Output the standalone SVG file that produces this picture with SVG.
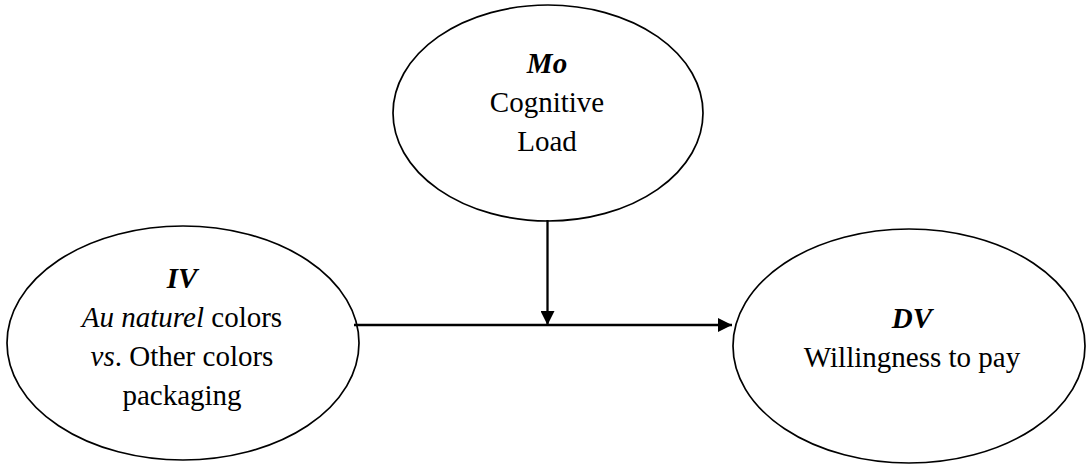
<svg xmlns="http://www.w3.org/2000/svg" width="1087" height="465" viewBox="0 0 1087 465">
  <style>
    .node { fill: #ffffff; stroke: #000000; stroke-width: 1.7; }
    .edge { stroke: #000000; stroke-width: 2.3; fill: none; }
    text { font-family: "Liberation Serif", "Times New Roman", serif; font-size: 29px; fill: #000000; text-anchor: middle; }
    .label { font-weight: bold; font-style: italic; }
    .it { font-style: italic; }
  </style>
  <defs>
    <marker id="arrow" viewBox="0 0 14 14" refX="14" refY="7" markerWidth="14" markerHeight="14" markerUnits="userSpaceOnUse" orient="auto">
      <path d="M0,0 L14,7 L0,14 Z" fill="#000000"/>
    </marker>
  </defs>
  <rect width="1087" height="465" fill="#ffffff"/>

  <g id="mo">
    <ellipse class="node" cx="548" cy="113" rx="155" ry="108"/>
    <text x="547" y="73" class="label">Mo</text>
    <text x="547" y="112">Cognitive</text>
    <text x="547" y="151">Load</text>
  </g>

  <g id="iv">
    <ellipse class="node" cx="183" cy="343" rx="176" ry="117"/>
    <text x="182" y="288" class="label">IV</text>
    <text x="182" y="327"><tspan class="it">Au naturel</tspan> colors</text>
    <text x="182" y="366"><tspan class="it">vs</tspan>. Other colors</text>
    <text x="182" y="405">packaging</text>
  </g>

  <g id="dv">
    <ellipse class="node" cx="909" cy="346" rx="176" ry="117"/>
    <text x="912" y="328" class="label">DV</text>
    <text x="912" y="367">Willingness to pay</text>
  </g>

  <g id="connectors">
    <line class="edge" x1="354" y1="325" x2="732" y2="325" marker-end="url(#arrow)"/>
    <line class="edge" x1="547.5" y1="220" x2="547.5" y2="325" marker-end="url(#arrow)"/>
  </g>
</svg>
